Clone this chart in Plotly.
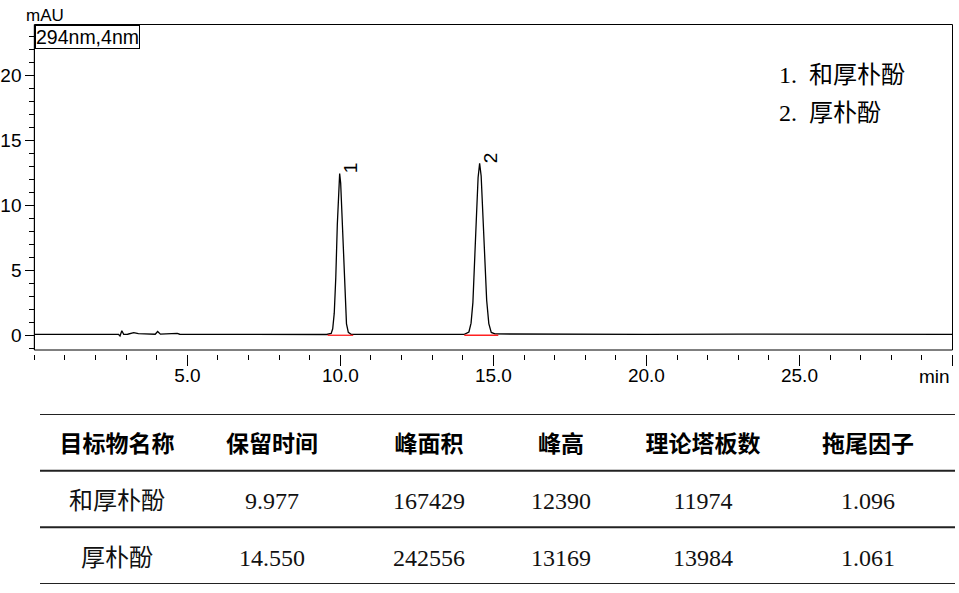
import plotly.graph_objects as go

W, H = 959, 593

# ---------------- chromatogram data ----------------
time_min = [0.0, 1.0, 2.0, 2.5, 2.75, 2.80, 2.86, 2.92, 3.05, 3.25, 3.40, 3.60, 3.95, 4.03, 4.12,
             4.67, 4.75, 6.0, 8.0, 9.55,
             9.70, 9.75, 9.80, 9.85, 9.90, 9.94, 9.977, 10.01, 10.05, 10.10, 10.15, 10.20, 10.26, 10.35,
             12.0, 14.05,
             14.20, 14.27, 14.33, 14.39, 14.45, 14.50, 14.55, 14.60, 14.66, 14.72, 14.78, 14.85, 14.93, 15.05,
             17.0, 20.0, 23.0, 26.0, 28.0, 30.0]
signal_mau = [0.05, 0.05, 0.04, 0.05, 0.05, -0.08, 0.33, 0.05, 0.06, 0.18, 0.10, 0.08, 0.06, 0.27, 0.07,
              0.12, 0.06, 0.05, 0.04, 0.04,
              0.12, 0.48, 1.68, 4.40, 8.48, 11.38, 12.42, 11.70, 9.30, 5.48, 2.47, 0.86, 0.20, 0.06,
              0.05, 0.05,
              0.23, 0.91, 2.49, 5.45, 9.35, 12.12, 13.21, 12.24, 9.14, 5.49, 2.67, 0.88, 0.20, 0.08,
              0.06, 0.05, 0.07, 0.06, 0.05, 0.05]

# integration baselines (red)
base1_t = [9.58, 10.42]
base1_y = [-0.02, -0.02]
base2_t = [14.05, 15.16]
base2_y = [-0.02, -0.02]

peak_ids = ["1", "2"]
peak_label_t = [10.32, 14.89]
peak_label_y = [12.85, 13.6]

legend_lines = ["1.  和厚朴酚", "2.  厚朴酚"]

x_tickvals = [5, 10, 15, 20, 25, 30]
x_ticktext = ["5.0", "10.0", "15.0", "20.0", "25.0", ""]
y_tickvals = [0, 5, 10, 15, 20]
y_ticktext = ["0", "5", "10", "15", "20"]

# ---------------- table data ----------------
table_header = ["目标物名称", "保留时间", "峰面积", "峰高", "理论塔板数", "拖尾因子"]
row_1 = ["和厚朴酚", "9.977", "167429", "12390", "11974", "1.096"]
row_2 = ["厚朴酚", "14.550", "242556", "13169", "13984", "1.061"]

# layout helpers (pixel positions)
col_centers = [117, 272, 429, 561, 703, 868]
text_nudge = 0.075  # small downward nudge of text within each table row

def px_x(p):
    return p / W

def px_y(p):
    return 1 - p / H

SANS = "Liberation Sans, Arial, sans-serif"
SERIF_CJK = "Liberation Serif, Noto Sans CJK SC, serif"

fig = go.Figure()

fig.add_trace(go.Scatter(x=time_min, y=signal_mau, mode="lines",
                         line=dict(color="black", width=1.3), xaxis="x", yaxis="y",
                         showlegend=False, hoverinfo="skip"))
fig.add_trace(go.Scatter(x=base1_t, y=base1_y, mode="lines",
                         line=dict(color="#ff2020", width=1.3), showlegend=False, hoverinfo="skip"))
fig.add_trace(go.Scatter(x=base2_t, y=base2_y, mode="lines",
                         line=dict(color="#ff2020", width=1.3), showlegend=False, hoverinfo="skip"))

# table text
fig.add_trace(go.Scatter(x=col_centers, y=[0 + text_nudge] * len(table_header), text=table_header,
                         mode="text", textposition="middle center",
                         textfont=dict(family="Noto Sans CJK SC, sans-serif", size=23, color="black",
                                       weight="bold"),
                         xaxis="x2", yaxis="y2", showlegend=False, hoverinfo="skip"))
fig.add_trace(go.Scatter(x=col_centers, y=[1 + text_nudge] * len(row_1), text=row_1, mode="text",
                         textposition="middle center",
                         textfont=dict(family=SERIF_CJK, size=24, color="#111"),
                         xaxis="x2", yaxis="y2", showlegend=False, hoverinfo="skip"))
fig.add_trace(go.Scatter(x=col_centers, y=[2 + text_nudge] * len(row_2), text=row_2, mode="text",
                         textposition="middle center",
                         textfont=dict(family=SERIF_CJK, size=24, color="#111"),
                         xaxis="x2", yaxis="y2", showlegend=False, hoverinfo="skip"))

shapes = [
    dict(type="rect", xref="x domain", yref="y domain", x0=0, x1=1, y0=0, y1=1,
         line=dict(color="black", width=1), layer="above"),
]
for yl in [-0.5, 0.5, 1.5, 2.5]:
    shapes.append(dict(type="line", xref="x2", yref="y2", x0=40, x1=955, y0=yl, y1=yl,
                       line=dict(color="#222", width=2)))

annotations = [
    dict(text="mAU", x=px_x(24), y=px_y(15), xref="paper", yref="paper", xanchor="left",
         yanchor="middle", showarrow=False, font=dict(family=SANS, size=17, color="black")),
    dict(text="294nm,4nm", x=px_x(34.5), y=px_y(25), xref="paper", yref="paper", xanchor="left",
         yanchor="top", showarrow=False, bordercolor="black", borderwidth=1, borderpad=0,
         bgcolor="white", font=dict(family=SANS, size=19.5, color="black")),
    dict(text="min", x=px_x(952), y=px_y(376), xref="paper", yref="paper", xanchor="right",
         yanchor="middle", showarrow=False, font=dict(family=SANS, size=19, color="black")),
]
for lbl, t, yv in zip(peak_ids, peak_label_t, peak_label_y):
    annotations.append(dict(text=lbl, x=t, y=yv, xref="x", yref="y", showarrow=False,
                            textangle=-90, font=dict(family=SANS, size=19, color="black")))
for i, line in enumerate(legend_lines):
    annotations.append(dict(text=line, x=px_x(777), y=px_y(75 + 38 * i), xref="paper", yref="paper",
                            xanchor="left", yanchor="middle", showarrow=False,
                            font=dict(family=SERIF_CJK, size=24, color="black")))

fig.update_layout(
    width=W, height=H,
    margin=dict(l=0, r=0, t=0, b=0),
    paper_bgcolor="white", plot_bgcolor="white",
    showlegend=False,
    xaxis=dict(domain=[px_x(34.3), px_x(952.5)], range=[0, 30], anchor="free",
               position=px_y(354), showline=False, showgrid=False, zeroline=False,
               ticks="outside", tickvals=x_tickvals, ticktext=x_ticktext, ticklen=11,
               tickwidth=1, tickcolor="black", ticklabelstandoff=-7,
               tickfont=dict(family=SANS, size=19, color="black"),
               minor=dict(dtick=1, tick0=0, ticks="outside", ticklen=5, tickwidth=1,
                          tickcolor="black", showgrid=False)),
    yaxis=dict(domain=[px_y(350), px_y(24.5)], range=[-1.154, 23.9], anchor="free",
               position=px_x(34.3), showline=True, linecolor="black", linewidth=1,
               showgrid=False, zeroline=False, ticks="outside", tickvals=y_tickvals,
               ticktext=y_ticktext, ticklen=9, tickwidth=1, tickcolor="black",
               tickfont=dict(family=SANS, size=19, color="black"),
               minor=dict(dtick=1, tick0=0, ticks="outside", ticklen=5, tickwidth=1,
                          tickcolor="black", showgrid=False)),
    xaxis2=dict(domain=[0, 1], range=[0, W], anchor="y2", visible=False, fixedrange=True),
    yaxis2=dict(domain=[px_y(584), px_y(414)], range=[2.5, -0.5], anchor="x2", visible=False,
                fixedrange=True),
    shapes=shapes,
    annotations=annotations,
)

fig.write_html("out.html", config={"displayModeBar": False},
               post_script="document.body.style.margin='0';document.body.style.overflow='hidden';")
